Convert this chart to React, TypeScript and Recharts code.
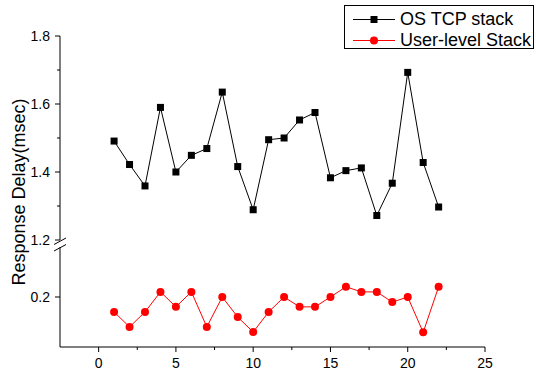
import { LineChart, Line, XAxis, YAxis, Legend, Customized } from 'recharts';

const runs = [1, 2, 3, 4, 5, 6, 7, 8, 9, 10, 11, 12, 13, 14, 15, 16, 17, 18, 19, 20, 21, 22];
const osTcpDelay = [
  1.491, 1.422, 1.359, 1.59, 1.4, 1.449, 1.469, 1.635, 1.416, 1.289, 1.495,
  1.5, 1.553, 1.575, 1.383, 1.404, 1.412, 1.272, 1.367, 1.693, 1.428, 1.297,
];
const userLevelDelay = [
  0.156, 0.112, 0.156, 0.215, 0.171, 0.215, 0.112, 0.2, 0.141, 0.097, 0.156,
  0.2, 0.171, 0.171, 0.2, 0.23, 0.215, 0.215, 0.185, 0.2, 0.096, 0.23,
];
const xTicks = [0, 2.5, 5, 7.5, 10, 12.5, 15, 17.5, 20, 22.5, 25];
const upperTicks = [1.2, 1.3, 1.4, 1.5, 1.6, 1.7, 1.8];
const upperLabels = [1.2, 1.4, 1.6, 1.8];
const lowerTicks = [0.2];
const seriesNames = ['OS TCP stack', 'User-level Stack'];

const FONT = '"Liberation Sans", Arial, sans-serif';
const W = 536;
const H = 376;

const data = runs.map((run, i) => ({ run, os: osTcpDelay[i], user: userLevelDelay[i] }));

function XTick({ x, y, payload }: any) {
  const major = payload.value % 5 === 0;
  return (
    <g>
      <line x1={x} y1={y} x2={x} y2={y + (major ? 5 : 3)} stroke="#000" />
      {major && (
        <text x={x} y={y + 21} textAnchor="middle" fontSize={14} fontFamily={FONT} fill="#000">
          {payload.value}
        </text>
      )}
    </g>
  );
}

function YTick({ x, y, payload }: any) {
  const v = payload.value;
  const major = upperLabels.includes(v) || lowerTicks.includes(v);
  return (
    <g>
      <line x1={x} y1={y} x2={x - (major ? 5 : 3)} y2={y} stroke="#000" />
      {major && (
        <text x={x - 10} y={y + 5} textAnchor="end" fontSize={14} fontFamily={FONT} fill="#000">
          {v.toFixed(1)}
        </text>
      )}
    </g>
  );
}

function AxisTitle() {
  return (
    <text
      x={25}
      y={192}
      transform="rotate(-90, 25, 192)"
      textAnchor="middle"
      fontSize={18}
      fontFamily={FONT}
      fill="#000"
    >
      Response Delay(msec)
    </text>
  );
}

function SquareDot(props: any) {
  const { cx, cy, index } = props;
  return <rect key={`sq-${index}`} x={cx - 3.5} y={cy - 3.5} width={7} height={7} fill="#000" />;
}

function BreakMarks() {
  return (
    <g stroke="#000" strokeWidth={1}>
      <line x1={54} y1={244.5} x2={66} y2={238} />
      <line x1={54} y1={251} x2={66} y2={244.5} />
    </g>
  );
}

function LegendBox() {
  const colors = ['#000', '#ff0000'];
  return (
    <div
      style={{
        border: '1px solid #000',
        width: 190,
        height: 44,
        background: '#fff',
        fontFamily: FONT,
        fontSize: 18,
        paddingTop: 3,
        boxSizing: 'border-box',
      }}
    >
      {seriesNames.map((name, i) => (
        <div key={name} style={{ display: 'flex', alignItems: 'center', height: 21, lineHeight: '21px' }}>
          <svg width={55} height={21}>
            <line x1={8} y1={10.5} x2={50} y2={10.5} stroke={colors[i]} />
            {i === 0 ? (
              <rect x={25.5} y={7} width={7} height={7} fill={colors[i]} />
            ) : (
              <circle cx={29} cy={10.5} r={4} fill={colors[i]} />
            )}
          </svg>
          <span style={{ color: '#000' }}>{name}</span>
        </div>
      ))}
    </div>
  );
}

export default function App() {
  return (
    <div style={{ position: 'absolute', left: 0, top: 0, width: W, height: H, background: '#fff' }}>
      <div style={{ position: 'absolute', left: 0, top: 0 }}>
        <LineChart width={W} height={H} data={data} margin={{ top: 247, right: 51, bottom: 0, left: 0 }}>
          <XAxis
            type="number"
            dataKey="run"
            domain={[-2.5, 25]}
            ticks={xTicks}
            interval={0}
            height={29}
            tickSize={0}
            tickMargin={0}
            tickLine={false}
            tick={<XTick />}
            axisLine={{ stroke: '#000' }}
          />
          <YAxis
            width={60}
            domain={[0.053, 0.347]}
            ticks={lowerTicks}
            interval={0}
            tickSize={0}
            tickMargin={0}
            tickLine={false}
            tick={<YTick />}
            axisLine={{ stroke: '#000' }}
            allowDataOverflow
          />
          <Line
            dataKey="user"
            stroke="#ff0000"
            strokeWidth={1}
            dot={{ r: 4, fill: '#ff0000', stroke: '#ff0000', strokeWidth: 0 }}
            isAnimationActive={false}
          />
          <Customized component={BreakMarks} />
        </LineChart>
      </div>
      <div style={{ position: 'absolute', left: 0, top: 0 }}>
        <LineChart width={W} height={H} data={data} margin={{ top: 36, right: 51, bottom: 136, left: 0 }}>
          <XAxis type="number" dataKey="run" domain={[-2.5, 25]} hide />
          <YAxis
            width={60}
            domain={[1.2, 1.8]}
            ticks={upperTicks}
            interval={0}
            tickSize={0}
            tickMargin={0}
            tickLine={false}
            tick={<YTick />}
            axisLine={{ stroke: '#000' }}
            label={<AxisTitle />}
          />
          <Line
            dataKey="os"
            stroke="#000"
            strokeWidth={1}
            dot={SquareDot}
            isAnimationActive={false}
          />
          <Legend
            layout="vertical"
            align="center"
            verticalAlign="middle"
            wrapperStyle={{ top: 5, left: 344, width: 192 }}
            content={() => <LegendBox />}
          />
        </LineChart>
      </div>
    </div>
  );
}
